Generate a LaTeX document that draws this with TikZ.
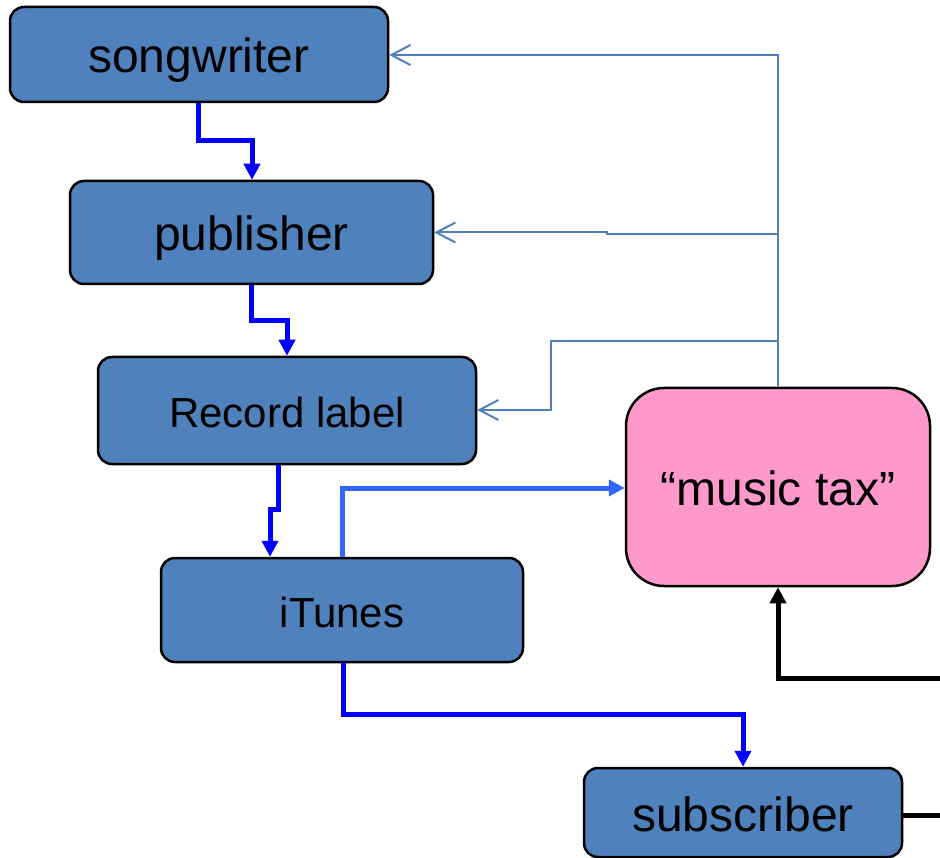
\documentclass[tikz,border=0pt]{standalone}
\usepackage{fontspec}
\setmainfont{Liberation Sans}
\usetikzlibrary{arrows.meta}
\definecolor{boxblue}{HTML}{4F81BD}
\definecolor{taxpink}{HTML}{FF99CC}
\definecolor{flowblue}{HTML}{0000FF}
\definecolor{lightflow}{HTML}{3366FF}
\begin{document}
\begin{tikzpicture}[x=1pt,y=-1pt,
  box/.style={draw=black, line width=2.5pt, fill=boxblue, rounded corners=14pt,
    inner sep=0pt, font=\fontsize{48}{56}\selectfont, text height=37pt, text depth=0pt},
  smallbox/.style={box, font=\fontsize{42}{50}\selectfont, text height=34pt},
  taxbox/.style={draw=black, line width=2.5pt, fill=taxpink, rounded corners=38pt,
    inner sep=0pt, font=\fontsize{48}{56}\selectfont, text height=36pt, text depth=0pt},
  flow/.style={draw=flowblue, line width=5pt, -{Triangle[length=16pt,width=16pt]}},
  payflow/.style={draw=lightflow, line width=5pt, -{Triangle[length=16pt,width=16pt]}},
  fee/.style={draw=black, line width=5pt},
  feearrow/.style={fee, -{Triangle[length=16pt,width=16pt]}},
  royalty/.style={draw=boxblue, line width=2pt, -{Straight Barb[length=19pt,width=20pt]}}]
\useasboundingbox (0,0) rectangle (940,858);

\node[box, minimum width=378pt, minimum height=95pt] (song) at (199,54.5) {songwriter};
\node[box, minimum width=363pt, minimum height=103pt] (pub) at (251.5,232.5) {publisher};
\node[smallbox, minimum width=378pt, minimum height=107pt] (label) at (287,410.5) {Record label};
\node[smallbox, minimum width=362pt, minimum height=104pt] (itunes) at (342,610) {iTunes};
\node[taxbox, minimum width=304pt, minimum height=198pt] (tax) at (778,487) {“music tax”};
\node[box, minimum width=318pt, minimum height=89pt] (sub) at (743,812.5) {subscriber};

\coordinate (feeout) at (940,815);
\coordinate (feein) at (940,678);
\coordinate (brpub) at (778,234);
\coordinate (brlab) at (778,341);

% main flow
\draw[flow] (song.south -| 198,0) |- (252,141) -- (pub.north -| 252,0);
\draw[flow] (pub.south -| 251,0) |- (287,321) -- (label.north -| 287,0);
\draw[flow] (label.south -| 278,0) |- (270,509) -- (itunes.north -| 270,0);
\draw[payflow] (itunes.north -| 342,0) |- (tax.west |- 0,488);
\draw[flow] (itunes.south -| 343,0) |- (743,714) -- (sub.north -| 743,0);

% subscriber fee
\draw[fee] (sub.east |- feeout) -- (feeout);
\draw[feearrow] (feein) -| (tax.south -| 778,0);

% royalties
\draw[royalty] (tax.north) |- (song.east |- 0,55);
\draw[royalty] (brpub) -- (607,234) -- (607,232.5) -- (pub.east);
\draw[royalty] (brlab) -| (551,410) -- (label.east |- 0,410);
\end{tikzpicture}
\end{document}
